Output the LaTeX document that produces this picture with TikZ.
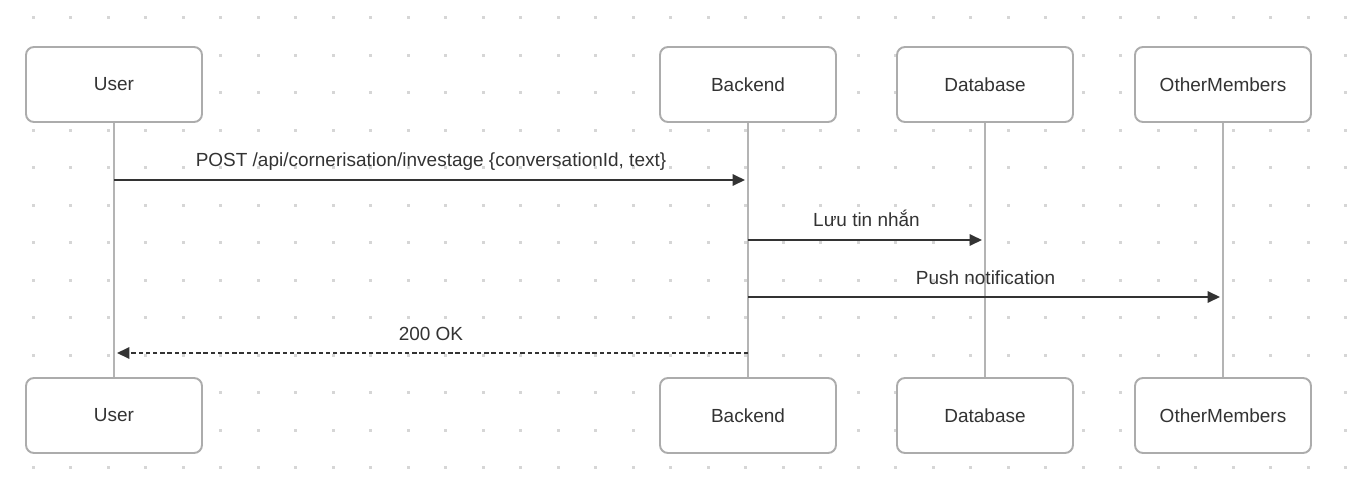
\documentclass[tikz,border=0pt]{standalone}
\usepackage{fontspec}
\setmainfont{Liberation Sans}
\usetikzlibrary{arrows.meta}

\definecolor{boxgray}{RGB}{172,172,172}
\definecolor{lifegray}{RGB}{180,180,180}
\definecolor{dotgray}{RGB}{214,214,214}
\definecolor{ink}{RGB}{51,51,51}

\begin{document}
\begin{tikzpicture}[x=0.02cm,y=-0.02cm,
    actor/.style={draw=boxgray,line width=1.1pt,rounded corners=4.5pt,fill=white,
                  minimum width=3.52cm,minimum height=1.5cm,text=ink,font=\fontsize{10.8}{13}\selectfont},
    lifeline/.style={draw=lifegray,line width=1.1pt},
    msg/.style={draw=ink,line width=1.15pt,shorten >=1.7pt,-{Triangle[length=7pt,width=6.4pt]}},
    reply/.style={msg,dash pattern=on 2.5pt off 1.6pt},
    lbl/.style={midway,anchor=base,inner sep=0pt,yshift=7.4pt,text=ink,font=\fontsize{10.8}{13}\selectfont}]
  \useasboundingbox (0,0) rectangle (1357,497);
  % dotted background
  \foreach \i in {0,...,35}
    \foreach \j in {0,...,12}
      \fill[dotgray] (31.5+37.5*\i,16+37.5*\j) rectangle ++(3,3);
  % participants
  \foreach \who/\x in {User/114,Backend/748,Database/985,OtherMembers/1223} {
    \node[actor] (\who-t) at (\x,84.5) {\who};
    \node[actor] (\who-b) at (\x,415.5) {\who};
  }
  % lifelines
  \foreach \who in {User,Backend,Database,OtherMembers}
    \draw[lifeline] (\who-t.south) -- (\who-b.north);
  % message rows
  \coordinate (row1) at (0,180);
  \coordinate (row2) at (0,240);
  \coordinate (row3) at (0,297);
  \coordinate (row4) at (0,353);
  \draw[msg] (User-t |- row1) -- node[lbl] {POST /api/cornerisation/investage \{conversationId, text\}} (Backend-t |- row1);
  \draw[msg] (Backend-t |- row2) -- node[lbl] {Lưu tin nhắn} (Database-t |- row2);
  \draw[msg] (Backend-t |- row3) -- node[lbl] {Push notification} (OtherMembers-t |- row3);
  \draw[reply] (Backend-t |- row4) -- node[lbl] {200 OK} (User-t |- row4);
\end{tikzpicture}
\end{document}
